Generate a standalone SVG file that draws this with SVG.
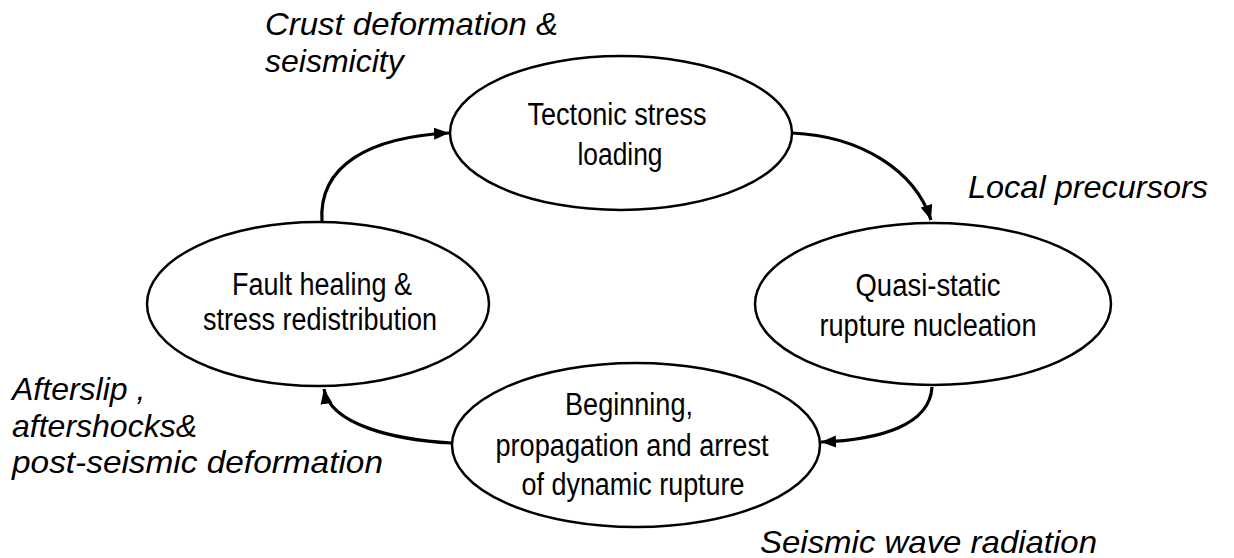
<svg xmlns="http://www.w3.org/2000/svg" width="1234" height="558" viewBox="0 0 1234 558">
<style>
.node ellipse{fill:#fff;stroke:#000;stroke-width:2.5}
.node text{font-family:"Liberation Sans",Arial,sans-serif;font-size:31px;fill:#000;text-anchor:middle}
.lbl{font-family:"Liberation Sans",Arial,sans-serif;font-size:32px;font-style:italic;fill:#000}
.conn path{fill:none;stroke:#000;stroke-width:3.2}
</style>
<defs>
<marker id="ah" markerUnits="userSpaceOnUse" markerWidth="18" markerHeight="14" refX="15" refY="6" orient="auto">
<path d="M0,0 L15,6 L0,12 z" fill="#000"/>
</marker>
</defs>
<rect width="1234" height="558" fill="#fff"/>
<g id="connectors" class="conn">
<path d="M792,133 C860,136 915,170 931,220" marker-end="url(#ah)"/>
<path d="M932,387 C930,425 880,440 821,442" marker-end="url(#ah)"/>
<path d="M452,443 C395,440 330,425 324,389" marker-end="url(#ah)"/>
<path d="M322,222 C318,165 370,137 449,133" marker-end="url(#ah)"/>
</g>
<g id="node-tectonic" class="node">
<ellipse cx="621" cy="133" rx="171" ry="77"/>
<text x="617" y="125" textLength="179" lengthAdjust="spacingAndGlyphs">Tectonic stress</text>
<text x="620" y="165" textLength="85" lengthAdjust="spacingAndGlyphs">loading</text>
</g>
<g id="node-quasi" class="node">
<ellipse cx="933" cy="304" rx="178" ry="81"/>
<text x="928" y="296" textLength="145" lengthAdjust="spacingAndGlyphs">Quasi-static</text>
<text x="928" y="336" textLength="217" lengthAdjust="spacingAndGlyphs">rupture nucleation</text>
</g>
<g id="node-dynamic" class="node">
<ellipse cx="636" cy="445" rx="184" ry="82"/>
<text x="629" y="415" textLength="128" lengthAdjust="spacingAndGlyphs">Beginning,</text>
<text x="632" y="456" textLength="273" lengthAdjust="spacingAndGlyphs">propagation and arrest</text>
<text x="633" y="495" textLength="223" lengthAdjust="spacingAndGlyphs">of dynamic rupture</text>
</g>
<g id="node-healing" class="node">
<ellipse cx="318" cy="304" rx="171" ry="82"/>
<text x="322" y="295" textLength="180" lengthAdjust="spacingAndGlyphs">Fault healing &amp;</text>
<text x="320" y="330" textLength="234" lengthAdjust="spacingAndGlyphs">stress redistribution</text>
</g>
<g id="labels">
<text class="lbl" x="265" y="35" textLength="293" lengthAdjust="spacingAndGlyphs">Crust deformation &amp;</text>
<text class="lbl" x="265" y="72">seismicity</text>
<text class="lbl" x="968" y="198" textLength="240" lengthAdjust="spacingAndGlyphs">Local precursors</text>
<text class="lbl" x="760" y="553" textLength="337" lengthAdjust="spacingAndGlyphs">Seismic wave radiation</text>
<text class="lbl" x="12" y="400">Afterslip ,</text>
<text class="lbl" x="12" y="437">aftershocks&amp;</text>
<text class="lbl" x="12" y="473" textLength="371" lengthAdjust="spacingAndGlyphs">post-seismic deformation</text>
</g>
</svg>
